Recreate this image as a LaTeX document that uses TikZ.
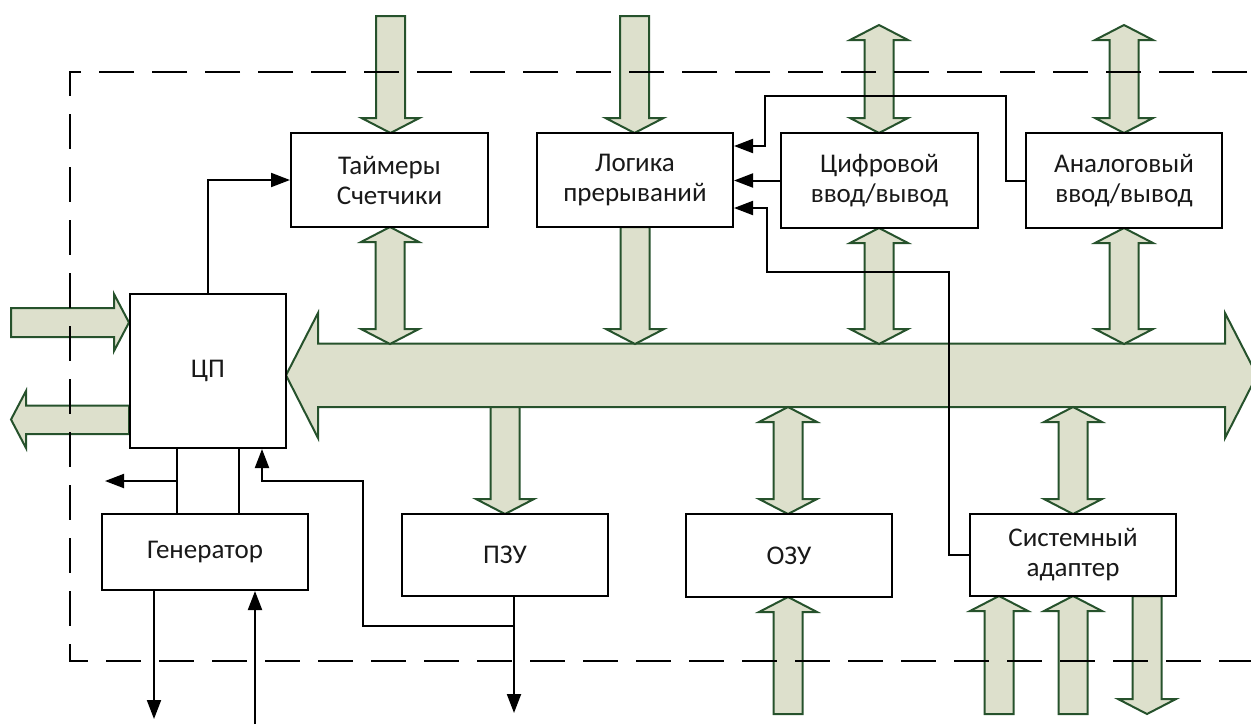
\documentclass[tikz,border=0pt]{standalone}
\usepackage{fontspec}
\setmainfont{Carlito}
\usetikzlibrary{arrows.meta}
\definecolor{busfill}{RGB}{221,224,204}
\definecolor{busline}{RGB}{38,82,44}
\definecolor{txt}{RGB}{25,25,25}
\newcommand\blkdn[3]{%
 \draw[blk] ({#1-14.5},#2) -- ({#1+14.5},#2) -- ({#1+14.5},{#3-15}) -- ({#1+29},{#3-15}) -- (#1,#3) -- ({#1-29},{#3-15}) -- ({#1-14.5},{#3-15}) -- cycle;}
\newcommand\blkup[3]{%
 \draw[blk] ({#1-14.5},#2) -- ({#1+14.5},#2) -- ({#1+14.5},{#3+15}) -- ({#1+29},{#3+15}) -- (#1,#3) -- ({#1-29},{#3+15}) -- ({#1-14.5},{#3+15}) -- cycle;}
\newcommand\blkud[3]{%
 \draw[blk] (#1,#2) -- ({#1+29},{#2+15}) -- ({#1+14.5},{#2+15}) -- ({#1+14.5},{#3-15}) -- ({#1+29},{#3-15}) -- (#1,#3) -- ({#1-29},{#3-15}) -- ({#1-14.5},{#3-15}) -- ({#1-14.5},{#2+15}) -- ({#1-29},{#2+15}) -- cycle;}
\tikzset{
  blk/.style={draw=busline, fill=busfill, line width=2pt, line join=miter},
  unit/.style={draw=black, fill=white, line width=2pt, rectangle, inner sep=0pt,
    align=center, text=txt, font=\fontsize{27}{30}\selectfont},
  conn/.style={draw=black, line width=2pt},
  tip/.style={-{Triangle[length=19pt,width=14pt]}},
  border/.style={draw=black, line width=2pt, dash pattern=on 35pt off 18pt}
}
\begin{document}
\begin{tikzpicture}[x=1pt,y=-1pt]
\useasboundingbox (0,0) rectangle (1251,724);
\clip (0,0) rectangle (1251,724);
% system bus
\draw[blk] (286,375.25) -- (318,313) -- (318,343.5) -- (1225,343.5) -- (1225,313) -- (1257,375.25)
  -- (1225,438) -- (1225,407) -- (318,407) -- (318,438) -- cycle;
% CPU external arrows
\draw[blk] (11,308) -- (114,308) -- (114,294) -- (129,322.5) -- (114,351) -- (114,337) -- (11,337) -- cycle;
\draw[blk] (11,419.5) -- (26,391) -- (26,405.5) -- (129,405.5) -- (129,434) -- (26,434) -- (26,448) -- cycle;
% block arrows
\blkdn{390.5}{16}{133}
\blkdn{634.5}{16}{133}
\blkud{879}{25}{133}
\blkud{1124}{25}{133}
\blkud{390}{227}{344}
\blkdn{635}{227}{344}
\blkud{879}{228}{344}
\blkud{1124}{228}{344}
\blkdn{505}{407}{514}
\blkud{788}{407}{514}
\blkup{788}{714}{597}
\blkud{1073}{407}{514}
\blkup{999}{714}{596}
\blkup{1073}{714}{596}
\blkdn{1147}{596}{714}
% units
\node[unit, minimum width=156pt, minimum height=154pt] (cpu) at (208,371) {ЦП};
\node[unit, minimum width=197pt, minimum height=94pt] (tim) at (389.5,180) {Таймеры\\Счетчики};
\node[unit, minimum width=196pt, minimum height=94pt] (log) at (635,180) {Логика\\прерываний};
\node[unit, minimum width=197pt, minimum height=95pt] (dig) at (879.5,180.5) {Цифровой\\ввод/вывод};
\node[unit, minimum width=196pt, minimum height=95pt] (ana) at (1124,180.5) {Аналоговый\\ввод/вывод};
\node[unit, minimum width=206pt, minimum height=76pt] (gen) at (205,552) {Генератор};
\node[unit, minimum width=206pt, minimum height=82pt] (pzu) at (505,555) {ПЗУ};
\node[unit, minimum width=206pt, minimum height=83pt] (ozu) at (789,555.5) {ОЗУ};
\node[unit, minimum width=206pt, minimum height=82pt] (sys) at (1073,555) {Системный\\адаптер};
% helper coordinates
\coordinate (g1) at (177,481);
\coordinate (g2) at (239,0);
\coordinate (outL) at (105,481);
\coordinate (cin) at (262,481);
\coordinate (pzuout) at (514,713);
\coordinate (j1) at (514,626);
\coordinate (genout) at (154,719);
\coordinate (genin) at (255,724);
\coordinate (a1) at (1006,96);
\coordinate (a2) at (765,146);
\coordinate (s1) at (949,272);
\coordinate (s2) at (767,208);
% thin connectors
\draw[conn,tip] (cpu.north) |- (tim.west);
\draw[conn] (g1 |- gen.north) -- (g1 |- cpu.south);
\draw[conn,tip] (g1) -- (outL);
\draw[conn] (g2 |- gen.north) -- (g2 |- cpu.south);
\draw[conn,tip] (pzuout |- pzu.south) -- (pzuout);
\draw[conn,tip] (j1) -- (363,626) -- (363,481) -- (cin) -- (cin |- cpu.south);
\draw[conn,tip] (genout |- gen.south) -- (genout);
\draw[conn,tip] (genin) -- (genin |- gen.south);
\draw[conn,tip] (dig.west) -- (dig.west -| log.east);
\draw[conn,tip] (ana.west) -| (a1) -| (a2) -- (a2 -| log.east);
\draw[conn,tip] (sys.west) -| (s1) -| (s2) -- (s2 -| log.east);
% board border
\draw[border] (1300,72) -- (70,72) -- (70,661) -- (1300,661);
\end{tikzpicture}
\end{document}
